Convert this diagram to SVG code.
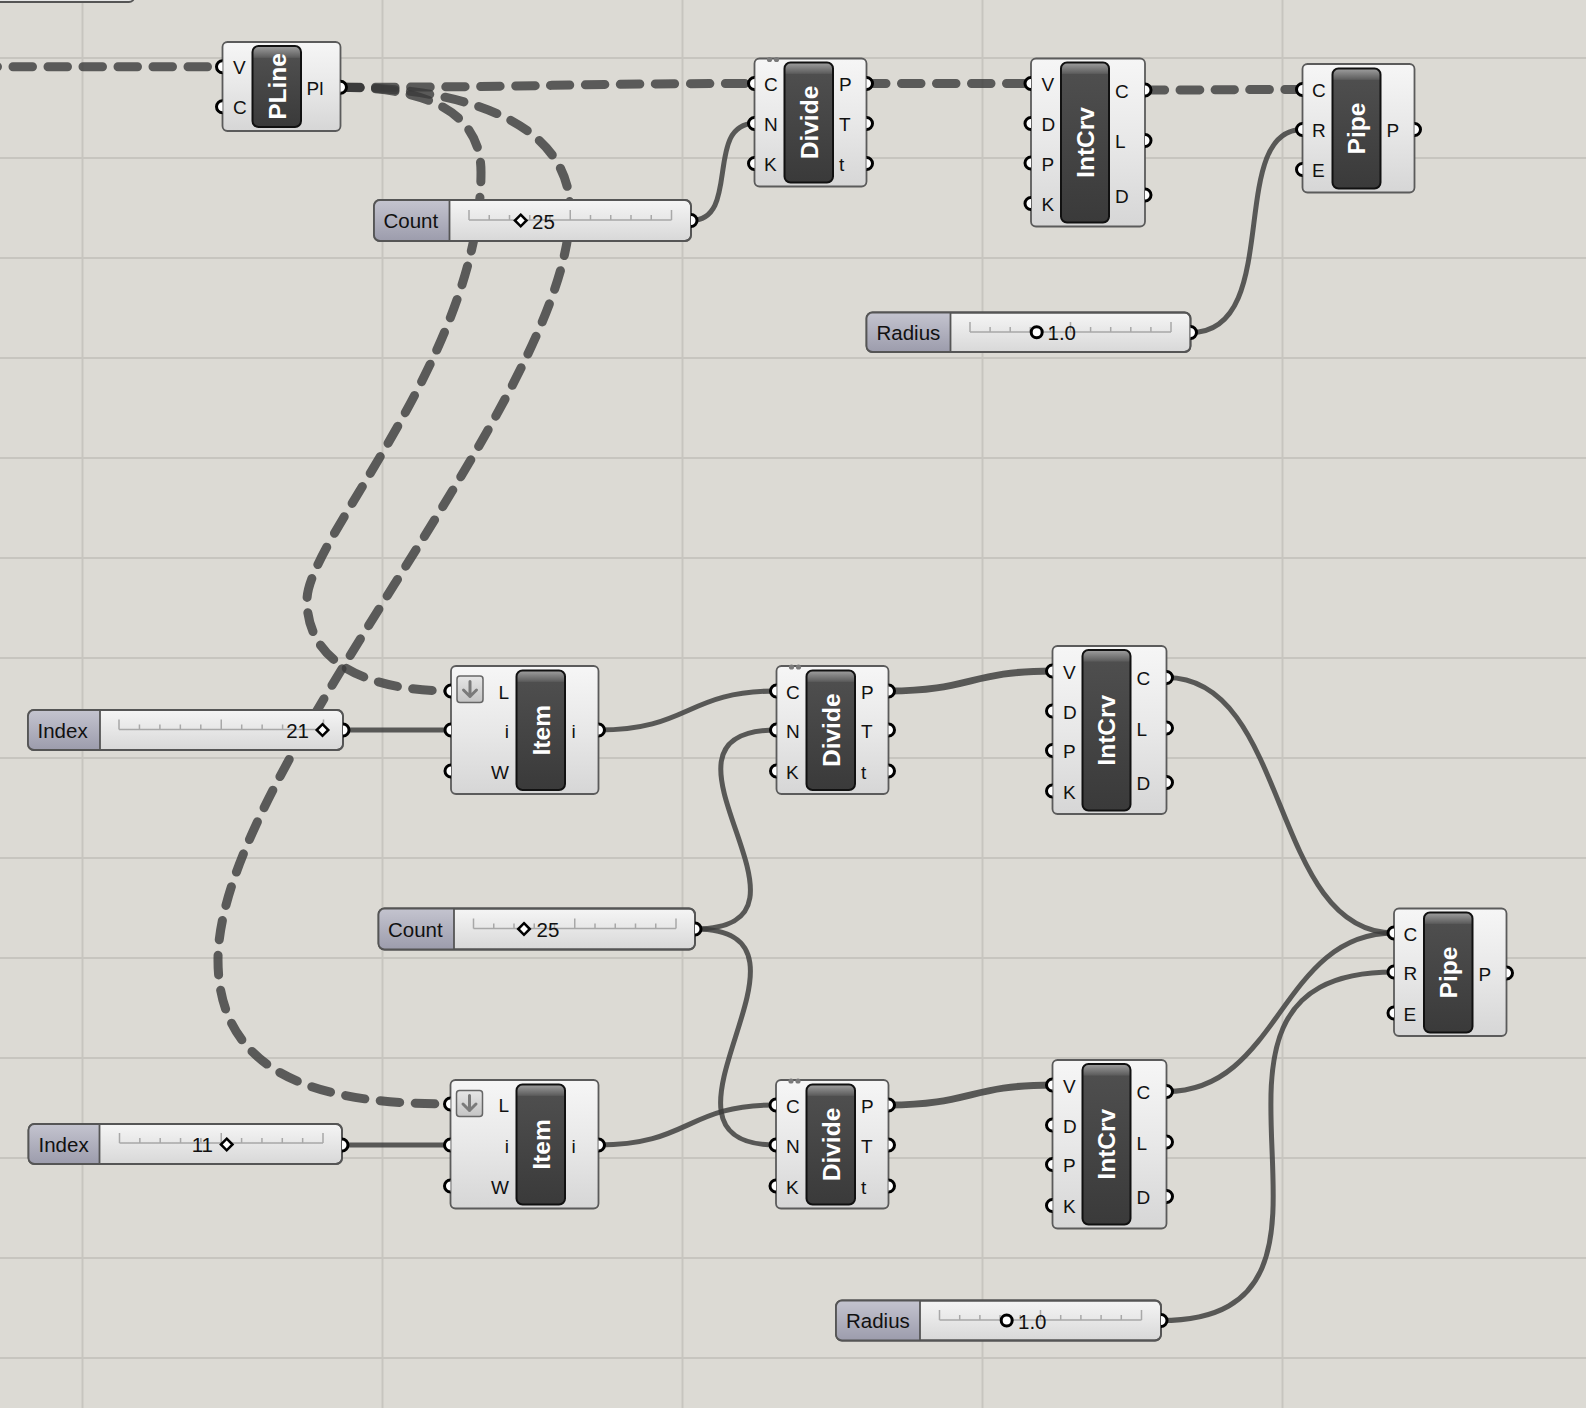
<svg xmlns="http://www.w3.org/2000/svg" width="1586" height="1408" viewBox="0 0 1586 1408">
<defs>
<linearGradient id="gBox" x1="0" y1="0" x2="0" y2="1"><stop offset="0" stop-color="#f6f6f6"/><stop offset="0.5" stop-color="#e8e8e8"/><stop offset="1" stop-color="#d6d6d6"/></linearGradient>
<linearGradient id="gSl" x1="0" y1="0" x2="0" y2="1"><stop offset="0" stop-color="#f5f5f5"/><stop offset="1" stop-color="#d8d8d8"/></linearGradient>
<linearGradient id="gLab" x1="0" y1="0" x2="0" y2="1"><stop offset="0" stop-color="#c4c4cf"/><stop offset="1" stop-color="#9c9cac"/></linearGradient>
<linearGradient id="gBarS" x1="0" y1="0" x2="0" y2="1"><stop offset="0" stop-color="#a0a0a0"/><stop offset="0.14" stop-color="#5e5e5e"/><stop offset="0.15" stop-color="#4e4e4e"/><stop offset="1" stop-color="#3a3a3a"/></linearGradient>
<linearGradient id="gBarM" x1="0" y1="0" x2="0" y2="1"><stop offset="0" stop-color="#a0a0a0"/><stop offset="0.09" stop-color="#5e5e5e"/><stop offset="0.1" stop-color="#4e4e4e"/><stop offset="1" stop-color="#3a3a3a"/></linearGradient>
<linearGradient id="gBarL" x1="0" y1="0" x2="0" y2="1"><stop offset="0" stop-color="#a0a0a0"/><stop offset="0.068" stop-color="#5e5e5e"/><stop offset="0.075" stop-color="#4e4e4e"/><stop offset="1" stop-color="#3a3a3a"/></linearGradient>
<linearGradient id="gIcon" x1="0" y1="0" x2="0" y2="1"><stop offset="0" stop-color="#e6e6e6"/><stop offset="1" stop-color="#c4c4c4"/></linearGradient>
</defs>
<style>
.grid{stroke:#c7c5bf;stroke-width:2;fill:none}
.box{fill:url(#gBox);stroke:#5b5b5b;stroke-width:1.8}
.bar{stroke:#111;stroke-width:2}
.bt{font-family:"Liberation Sans",Arial,sans-serif;font-weight:bold;font-size:24.5px;fill:#fff;text-anchor:middle}
.pl{font-family:"Liberation Sans",Arial,sans-serif;font-size:19px;fill:#111}
.pr{text-anchor:end}
.port{fill:#fff;stroke:#000;stroke-width:3}
.sbox{fill:url(#gSl);stroke:#555;stroke-width:1.8}
.slab{fill:url(#gLab)}
.sline{fill:none;stroke:#555;stroke-width:1.8}
.st{font-family:"Liberation Sans",Arial,sans-serif;font-size:20.5px;fill:#111}
.ste{text-anchor:end}
.tick{stroke:#a8a8a8;stroke-width:1.5;fill:none}
.dia{fill:#fff;stroke:#000;stroke-width:2.5}
.ring{fill:#fff;stroke:#000;stroke-width:3}
.wire{fill:none;stroke:#3a3a3a;stroke-opacity:0.82;stroke-width:5;stroke-linecap:round}
.thick{stroke-width:7}
.dash{fill:none;stroke:#3a3a3a;stroke-opacity:0.8;stroke-width:9;stroke-dasharray:19.5 15.5;stroke-linecap:round}
.icon{fill:url(#gIcon);stroke:#666;stroke-width:1.5}
.arrow{fill:none;stroke:#7a7a7a;stroke-width:3;stroke-linecap:round;stroke-linejoin:round}
.dot{fill:#7a7a7a}
</style>
<rect x="0" y="0" width="1586" height="1408" fill="#dcdad4"/>
<g id="grid">
<path class="grid" d="M82.5,0V1408M382.5,0V1408M682.5,0V1408M982.5,0V1408M1282.5,0V1408"/>
<path class="grid" d="M0,58H1586M0,158H1586M0,258H1586M0,358H1586M0,458H1586M0,558H1586M0,658H1586M0,758H1586M0,858H1586M0,958H1586M0,1058H1586M0,1158H1586M0,1258H1586M0,1358H1586"/>
</g>
<rect x="-10" y="-40" width="144" height="42" rx="5" fill="#e6e6e6" stroke="#555" stroke-width="2"/>
<g id="connectors">
<path class="dash" d="M-22,66.7L222.5,66.7"/>
<path class="dash" d="M340.5,87.3C540,87.3 560,83.5 754.5,83.5"/>
<path class="dash" d="M340.5,87.3C440,87.3 481,120 481,172C481,357 307,540 307,600C307,670 380,691 451,691"/>
<path class="dash" d="M340.5,87.3C480,87.3 570,130 570,210C570,398 218,772 218,960C218,1088 345,1104 450.5,1104"/>
<path class="wire" d="M691,220.5C741,220.5 704,123.5 754.5,123.5"/>
<path class="dash" d="M866.5,83.5L1031,83.5"/>
<path class="dash" d="M1145,90C1220,90 1230,89.5 1302.5,89.5"/>
<path class="wire" d="M1190.5,332.5C1285,332.5 1225,129.5 1302.5,129.5"/>
<path class="wire" d="M343,730L451,730"/>
<path class="wire" d="M598.5,730C690,730 686,691 776.5,691"/>
<path class="wire" d="M695,929C845,929 626,730 776.5,730"/>
<path class="wire" d="M695,929C845,929 626,1145 776,1145"/>
<path class="wire thick" d="M888.5,691C970,691 970,671 1052.5,671"/>
<path class="wire" d="M1166.5,677.5C1290,677.5 1270,933 1394,933"/>
<path class="wire" d="M1166.5,1091.5C1280,1091.5 1280,933 1394,933"/>
<path class="wire" d="M1161,1320.5C1401,1320.5 1139,972 1394,972"/>
<path class="wire" d="M342,1145L450.5,1145"/>
<path class="wire" d="M598.5,1145C690,1145 686,1105 776,1105"/>
<path class="wire thick" d="M888.5,1105C970,1105 970,1085 1052.5,1085"/>
</g>

<g id="pline">
<rect class="box" x="222.5" y="42" width="118" height="89" rx="5"/>
<rect class="bar" fill="url(#gBarS)" x="252.5" y="46" width="48.5" height="81" rx="6"/>
<text class="bt" transform="translate(276.75,86.5) rotate(-90)" y="8.8">PLine</text>
<path class="port" d="M222.5,60.7A6,6 0 0 0 222.5,72.7"/>
<path class="port" d="M222.5,100.7A6,6 0 0 0 222.5,112.7"/>
<path class="port" d="M340.5,81.3A6,6 0 0 1 340.5,93.3"/>
<text class="pl" x="233" y="74.2">V</text>
<text class="pl" x="233" y="114.2">C</text>
<text class="pl" x="306.5" y="94.8">Pl</text>
</g>

<g id="divide-top">
<rect class="box" x="754.5" y="58.5" width="112" height="128" rx="5"/>
<circle class="dot" cx="769.5" cy="59.5" r="2.6"/><circle class="dot" cx="776.5" cy="59.5" r="2.6"/>
<rect class="bar" fill="url(#gBarM)" x="784.5" y="62.5" width="48.5" height="120" rx="6"/>
<text class="bt" transform="translate(808.75,122.5) rotate(-90)" y="8.8">Divide</text>
<path class="port" d="M754.5,77.5A6,6 0 0 0 754.5,89.5"/>
<path class="port" d="M754.5,117.5A6,6 0 0 0 754.5,129.5"/>
<path class="port" d="M754.5,157.5A6,6 0 0 0 754.5,169.5"/>
<path class="port" d="M866.5,77.5A6,6 0 0 1 866.5,89.5"/>
<path class="port" d="M866.5,117.5A6,6 0 0 1 866.5,129.5"/>
<path class="port" d="M866.5,157.5A6,6 0 0 1 866.5,169.5"/>
<text class="pl" x="764" y="91">C</text>
<text class="pl" x="764" y="131">N</text>
<text class="pl" x="764" y="171">K</text>
<text class="pl" x="839" y="91">P</text>
<text class="pl" x="839" y="131">T</text>
<text class="pl" x="839" y="171">t</text>
</g>

<g id="intcrv-top">
<rect class="box" x="1031" y="58.5" width="114" height="168" rx="5"/>
<rect class="bar" fill="url(#gBarL)" x="1061" y="62.5" width="48" height="160" rx="6"/>
<text class="bt" transform="translate(1085,142.5) rotate(-90)" y="8.8">IntCrv</text>
<path class="port" d="M1031,77.5A6,6 0 0 0 1031,89.5"/>
<path class="port" d="M1031,117.5A6,6 0 0 0 1031,129.5"/>
<path class="port" d="M1031,157A6,6 0 0 0 1031,169"/>
<path class="port" d="M1031,197.5A6,6 0 0 0 1031,209.5"/>
<path class="port" d="M1145,84A6,6 0 0 1 1145,96"/>
<path class="port" d="M1145,134.5A6,6 0 0 1 1145,146.5"/>
<path class="port" d="M1145,189A6,6 0 0 1 1145,201"/>
<text class="pl" x="1041.5" y="91">V</text>
<text class="pl" x="1041.5" y="131">D</text>
<text class="pl" x="1041.5" y="170.5">P</text>
<text class="pl" x="1041.5" y="211">K</text>
<text class="pl" x="1115" y="97.5">C</text>
<text class="pl" x="1115" y="148">L</text>
<text class="pl" x="1115" y="202.5">D</text>
</g>

<g id="pipe-top">
<rect class="box" x="1302.5" y="64" width="112" height="128.5" rx="5"/>
<rect class="bar" fill="url(#gBarM)" x="1332.5" y="68.5" width="48" height="120" rx="6"/>
<text class="bt" transform="translate(1356.5,128.5) rotate(-90)" y="8.8">Pipe</text>
<path class="port" d="M1302.5,83.5A6,6 0 0 0 1302.5,95.5"/>
<path class="port" d="M1302.5,123.5A6,6 0 0 0 1302.5,135.5"/>
<path class="port" d="M1302.5,163.5A6,6 0 0 0 1302.5,175.5"/>
<path class="port" d="M1414.5,123.5A6,6 0 0 1 1414.5,135.5"/>
<text class="pl" x="1312" y="97">C</text>
<text class="pl" x="1312" y="137">R</text>
<text class="pl" x="1312" y="177">E</text>
<text class="pl" x="1386.5" y="137">P</text>
</g>

<g id="count-top">
<rect class="sbox" x="374" y="200" width="317" height="41" rx="6"/>
<path class="slab" d="M380,200H449.5V241H380A6,6 0 0 1 374,235V206A6,6 0 0 1 380,200Z"/>
<rect class="sline" x="374" y="200" width="317" height="41" rx="6"/>
<path class="sline" d="M449.5,200V241"/>
<path class="tick" d="M469,220H671.5M469,210V220M570.25,210V220M671.5,210V220M489.25,215V220M509.5,215V220M529.75,215V220M550,215V220M590.5,215V220M610.75,215V220M631,215V220M651.25,215V220"/>
<polygon class="dia" points="520.7,214.7 526.5,220.5 520.7,226.3 514.9,220.5"/>
<text class="st" x="383.5" y="228">Count</text>
<text class="st" x="532" y="228.5">25</text>
<path class="port" d="M691,214.5A6,6 0 0 1 691,226.5"/>
</g>

<g id="radius-top">
<rect class="sbox" x="866.5" y="312.5" width="324" height="39.5" rx="6"/>
<path class="slab" d="M872.5,312.5H950.5V352H872.5A6,6 0 0 1 866.5,346V318.5A6,6 0 0 1 872.5,312.5Z"/>
<rect class="sline" x="866.5" y="312.5" width="324" height="39.5" rx="6"/>
<path class="sline" d="M950.5,312.5V352"/>
<path class="tick" d="M970,332H1171M970,322V332M1070.5,322V332M1171,322V332M990.1,327V332M1010.2,327V332M1030.3,327V332M1050.4,327V332M1090.6,327V332M1110.7,327V332M1130.8,327V332M1150.9,327V332"/>
<circle class="ring" cx="1036.7" cy="332.3" r="5.5"/>
<text class="st" x="876.5" y="339.8">Radius</text>
<text class="st" x="1047.5" y="340">1.0</text>
<path class="port" d="M1190.5,326.5A6,6 0 0 1 1190.5,338.5"/>
</g>

<g id="index-1">
<rect class="sbox" x="28" y="710" width="315" height="40" rx="6"/>
<path class="slab" d="M34,710H100V750H34A6,6 0 0 1 28,744V716A6,6 0 0 1 34,710Z"/>
<rect class="sline" x="28" y="710" width="315" height="40" rx="6"/>
<path class="sline" d="M100,710V750"/>
<path class="tick" d="M119,729.5H323.5M119,719.5V729.5M221.25,719.5V729.5M323.5,719.5V729.5M139.45,724.5V729.5M159.9,724.5V729.5M180.35,724.5V729.5M200.8,724.5V729.5M241.7,724.5V729.5M262.15,724.5V729.5M282.6,724.5V729.5M303.05,724.5V729.5"/>
<polygon class="dia" points="322.5,724.2 328.3,730 322.5,735.8 316.7,730"/>
<text class="st" x="37.5" y="737.5">Index</text>
<text class="st ste" x="309" y="738">21</text>
<path class="port" d="M343,724A6,6 0 0 1 343,736"/>
</g>

<g id="item-1">
<rect class="box" x="451" y="666" width="147.5" height="128" rx="5"/>
<rect class="bar" fill="url(#gBarM)" x="516.5" y="670.5" width="48.5" height="119.5" rx="6"/>
<text class="bt" transform="translate(540.75,730.25) rotate(-90)" y="8.8">Item</text>
<rect class="icon" x="457" y="676" width="26" height="26.5" rx="3"/>
<path class="arrow" d="M470,681.5V696.5M463.5,690L470,696.5L476.5,690"/>
<path class="port" d="M451,685A6,6 0 0 0 451,697"/>
<path class="port" d="M451,724A6,6 0 0 0 451,736"/>
<path class="port" d="M451,765A6,6 0 0 0 451,777"/>
<path class="port" d="M598.5,724A6,6 0 0 1 598.5,736"/>
<text class="pl pr" x="509" y="698.5">L</text>
<text class="pl pr" x="509" y="737.5">i</text>
<text class="pl pr" x="509" y="778.5">W</text>
<text class="pl" x="571.5" y="737.5">i</text>
</g>

<g id="divide-1">
<rect class="box" x="776.5" y="666" width="112" height="128" rx="5"/>
<circle class="dot" cx="791.5" cy="667" r="2.6"/><circle class="dot" cx="798.5" cy="667" r="2.6"/>
<rect class="bar" fill="url(#gBarM)" x="806.5" y="670.5" width="48.5" height="119.5" rx="6"/>
<text class="bt" transform="translate(830.75,730.25) rotate(-90)" y="8.8">Divide</text>
<path class="port" d="M776.5,685A6,6 0 0 0 776.5,697"/>
<path class="port" d="M776.5,724A6,6 0 0 0 776.5,736"/>
<path class="port" d="M776.5,765A6,6 0 0 0 776.5,777"/>
<path class="port" d="M888.5,685A6,6 0 0 1 888.5,697"/>
<path class="port" d="M888.5,724A6,6 0 0 1 888.5,736"/>
<path class="port" d="M888.5,765A6,6 0 0 1 888.5,777"/>
<text class="pl" x="786" y="698.5">C</text>
<text class="pl" x="786" y="737.5">N</text>
<text class="pl" x="786" y="778.5">K</text>
<text class="pl" x="861" y="698.5">P</text>
<text class="pl" x="861" y="737.5">T</text>
<text class="pl" x="861" y="778.5">t</text>
</g>

<g id="intcrv-1">
<rect class="box" x="1052.5" y="646" width="114" height="168" rx="5"/>
<rect class="bar" fill="url(#gBarL)" x="1082.5" y="650" width="48" height="160.5" rx="6"/>
<text class="bt" transform="translate(1106.5,730.25) rotate(-90)" y="8.8">IntCrv</text>
<path class="port" d="M1052.5,665A6,6 0 0 0 1052.5,677"/>
<path class="port" d="M1052.5,705A6,6 0 0 0 1052.5,717"/>
<path class="port" d="M1052.5,744.5A6,6 0 0 0 1052.5,756.5"/>
<path class="port" d="M1052.5,785A6,6 0 0 0 1052.5,797"/>
<path class="port" d="M1166.5,671.5A6,6 0 0 1 1166.5,683.5"/>
<path class="port" d="M1166.5,722A6,6 0 0 1 1166.5,734"/>
<path class="port" d="M1166.5,776.5A6,6 0 0 1 1166.5,788.5"/>
<text class="pl" x="1063" y="678.5">V</text>
<text class="pl" x="1063" y="718.5">D</text>
<text class="pl" x="1063" y="758">P</text>
<text class="pl" x="1063" y="798.5">K</text>
<text class="pl" x="1136.5" y="685">C</text>
<text class="pl" x="1136.5" y="735.5">L</text>
<text class="pl" x="1136.5" y="790">D</text>
</g>

<g id="count-mid">
<rect class="sbox" x="378.5" y="908.5" width="316.5" height="41" rx="6"/>
<path class="slab" d="M384.5,908.5H454V949.5H384.5A6,6 0 0 1 378.5,943.5V914.5A6,6 0 0 1 384.5,908.5Z"/>
<rect class="sline" x="378.5" y="908.5" width="316.5" height="41" rx="6"/>
<path class="sline" d="M454,908.5V949.5"/>
<path class="tick" d="M473.5,928.5H676M473.5,918.5V928.5M574.75,918.5V928.5M676,918.5V928.5M493.75,923.5V928.5M514,923.5V928.5M534.25,923.5V928.5M554.5,923.5V928.5M595,923.5V928.5M615.25,923.5V928.5M635.5,923.5V928.5M655.75,923.5V928.5"/>
<polygon class="dia" points="524,923.2 529.8,929 524,934.8 518.2,929"/>
<text class="st" x="388" y="936.5">Count</text>
<text class="st" x="536.5" y="937">25</text>
<path class="port" d="M695,923A6,6 0 0 1 695,935"/>
</g>

<g id="pipe-mid">
<rect class="box" x="1394" y="908.5" width="112.5" height="127.5" rx="5"/>
<rect class="bar" fill="url(#gBarM)" x="1424" y="912.5" width="48.5" height="120" rx="6"/>
<text class="bt" transform="translate(1448.25,972.5) rotate(-90)" y="8.8">Pipe</text>
<path class="port" d="M1394,927A6,6 0 0 0 1394,939"/>
<path class="port" d="M1394,966A6,6 0 0 0 1394,978"/>
<path class="port" d="M1394,1007A6,6 0 0 0 1394,1019"/>
<path class="port" d="M1506.5,967A6,6 0 0 1 1506.5,979"/>
<text class="pl" x="1403.5" y="940.5">C</text>
<text class="pl" x="1403.5" y="979.5">R</text>
<text class="pl" x="1403.5" y="1020.5">E</text>
<text class="pl" x="1478.5" y="980.5">P</text>
</g>

<g id="intcrv-2">
<rect class="box" x="1052.5" y="1060" width="114" height="168.5" rx="5"/>
<rect class="bar" fill="url(#gBarL)" x="1082.5" y="1064" width="48" height="160.5" rx="6"/>
<text class="bt" transform="translate(1106.5,1144.25) rotate(-90)" y="8.8">IntCrv</text>
<path class="port" d="M1052.5,1079A6,6 0 0 0 1052.5,1091"/>
<path class="port" d="M1052.5,1119A6,6 0 0 0 1052.5,1131"/>
<path class="port" d="M1052.5,1158.5A6,6 0 0 0 1052.5,1170.5"/>
<path class="port" d="M1052.5,1199.5A6,6 0 0 0 1052.5,1211.5"/>
<path class="port" d="M1166.5,1085.5A6,6 0 0 1 1166.5,1097.5"/>
<path class="port" d="M1166.5,1136A6,6 0 0 1 1166.5,1148"/>
<path class="port" d="M1166.5,1190.5A6,6 0 0 1 1166.5,1202.5"/>
<text class="pl" x="1063" y="1092.5">V</text>
<text class="pl" x="1063" y="1132.5">D</text>
<text class="pl" x="1063" y="1172">P</text>
<text class="pl" x="1063" y="1213">K</text>
<text class="pl" x="1136.5" y="1099">C</text>
<text class="pl" x="1136.5" y="1149.5">L</text>
<text class="pl" x="1136.5" y="1204">D</text>
</g>

<g id="index-2">
<rect class="sbox" x="28.5" y="1124" width="313.5" height="40" rx="6"/>
<path class="slab" d="M34.5,1124H99.5V1164H34.5A6,6 0 0 1 28.5,1158V1130A6,6 0 0 1 34.5,1124Z"/>
<rect class="sline" x="28.5" y="1124" width="313.5" height="40" rx="6"/>
<path class="sline" d="M99.5,1124V1164"/>
<path class="tick" d="M119.5,1143H323M119.5,1133V1143M221.25,1133V1143M323,1133V1143M139.85,1138V1143M160.2,1138V1143M180.55,1138V1143M200.9,1138V1143M241.6,1138V1143M261.95,1138V1143M282.3,1138V1143M302.65,1138V1143"/>
<polygon class="dia" points="226.7,1138.7 232.5,1144.5 226.7,1150.3 220.9,1144.5"/>
<text class="st" x="38.5" y="1151.5">Index</text>
<text class="st ste" x="213" y="1152">11</text>
<path class="port" d="M342,1139A6,6 0 0 1 342,1151"/>
</g>

<g id="item-2">
<rect class="box" x="450.5" y="1080" width="148" height="128.5" rx="5"/>
<rect class="bar" fill="url(#gBarM)" x="516.5" y="1084.5" width="48.5" height="120" rx="6"/>
<text class="bt" transform="translate(540.75,1144.5) rotate(-90)" y="8.8">Item</text>
<rect class="icon" x="456.5" y="1090.5" width="26" height="26" rx="3"/>
<path class="arrow" d="M469.5,1095.5V1110.5M463,1104L469.5,1110.5L476,1104"/>
<path class="port" d="M450.5,1098A6,6 0 0 0 450.5,1110"/>
<path class="port" d="M450.5,1139A6,6 0 0 0 450.5,1151"/>
<path class="port" d="M450.5,1180A6,6 0 0 0 450.5,1192"/>
<path class="port" d="M598.5,1139A6,6 0 0 1 598.5,1151"/>
<text class="pl pr" x="509" y="1111.5">L</text>
<text class="pl pr" x="509" y="1152.5">i</text>
<text class="pl pr" x="509" y="1193.5">W</text>
<text class="pl" x="571.5" y="1152.5">i</text>
</g>

<g id="divide-2">
<rect class="box" x="776" y="1080" width="112.5" height="128.5" rx="5"/>
<circle class="dot" cx="791" cy="1081" r="2.6"/><circle class="dot" cx="798" cy="1081" r="2.6"/>
<rect class="bar" fill="url(#gBarM)" x="806.5" y="1084.5" width="48.5" height="120" rx="6"/>
<text class="bt" transform="translate(830.75,1144.5) rotate(-90)" y="8.8">Divide</text>
<path class="port" d="M776,1099A6,6 0 0 0 776,1111"/>
<path class="port" d="M776,1139A6,6 0 0 0 776,1151"/>
<path class="port" d="M776,1180A6,6 0 0 0 776,1192"/>
<path class="port" d="M888.5,1099A6,6 0 0 1 888.5,1111"/>
<path class="port" d="M888.5,1139A6,6 0 0 1 888.5,1151"/>
<path class="port" d="M888.5,1180A6,6 0 0 1 888.5,1192"/>
<text class="pl" x="786" y="1112.5">C</text>
<text class="pl" x="786" y="1152.5">N</text>
<text class="pl" x="786" y="1193.5">K</text>
<text class="pl" x="861" y="1112.5">P</text>
<text class="pl" x="861" y="1152.5">T</text>
<text class="pl" x="861" y="1193.5">t</text>
</g>

<g id="radius-mid">
<rect class="sbox" x="836" y="1300.5" width="325" height="40" rx="6"/>
<path class="slab" d="M842,1300.5H920V1340.5H842A6,6 0 0 1 836,1334.5V1306.5A6,6 0 0 1 842,1300.5Z"/>
<rect class="sline" x="836" y="1300.5" width="325" height="40" rx="6"/>
<path class="sline" d="M920,1300.5V1340.5"/>
<path class="tick" d="M939.5,1320H1141.5M939.5,1310V1320M1040.5,1310V1320M1141.5,1310V1320M959.7,1315V1320M979.9,1315V1320M1000.1,1315V1320M1020.3,1315V1320M1060.7,1315V1320M1080.9,1315V1320M1101.1,1315V1320M1121.3,1315V1320"/>
<circle class="ring" cx="1006.7" cy="1320.5" r="5.5"/>
<text class="st" x="846" y="1328">Radius</text>
<text class="st" x="1018" y="1328.5">1.0</text>
<path class="port" d="M1161,1314.5A6,6 0 0 1 1161,1326.5"/>
</g>
</svg>
